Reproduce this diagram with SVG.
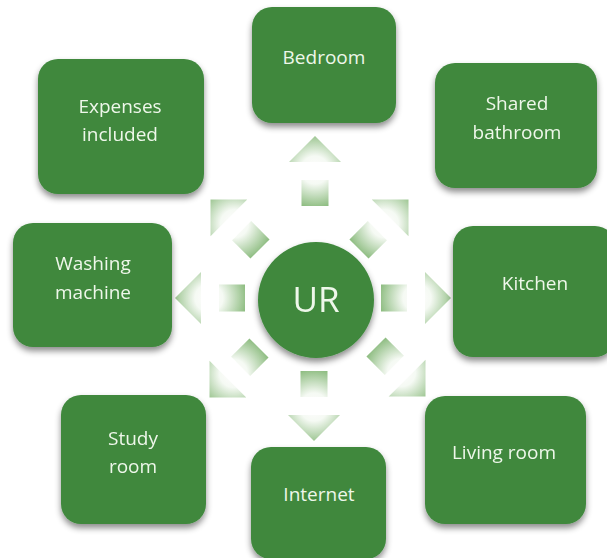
<svg xmlns="http://www.w3.org/2000/svg" width="607" height="558" viewBox="0 0 607 558">
  <defs>
    <filter id="shadow" x="-20%" y="-20%" width="140%" height="150%">
      <feDropShadow dx="0" dy="4" stdDeviation="3" flood-color="#000" flood-opacity="0.45"/>
    </filter>
    <radialGradient id="arrowGrad" gradientUnits="userSpaceOnUse" cx="0" cy="-36" r="40">
      <stop offset="0" stop-color="#ffffff"/>
      <stop offset="0.35" stop-color="#f4f9f2"/>
      <stop offset="1" stop-color="#6fab5f"/>
    </radialGradient>
    <g id="arrow">
      <rect x="-13.5" y="-26" width="27" height="26" fill="url(#arrowGrad)"/>
      <polygon points="0,-70 26,-44 -26,-44" fill="url(#arrowGrad)"/>
    </g>
  </defs>
  <style>
    .box { fill: #3f883d; filter: url(#shadow); }
    .lbl { font-family: "Open Sans", "Liberation Sans", sans-serif; font-size: 19px; fill: #eef7ea; text-anchor: middle; }
    .hub { font-family: "Open Sans", "Liberation Sans", sans-serif; font-size: 35px; fill: #eef7ea; text-anchor: middle; }
  </style>
  <rect width="607" height="558" fill="#ffffff"/>

  <g id="connectors" opacity="0.85">
    <use href="#arrow" transform="translate(315,206)"/>
    <use href="#arrow" transform="translate(359,249) rotate(45)"/>
    <use href="#arrow" transform="translate(381,298) rotate(90)"/>
    <use href="#arrow" transform="translate(376,347) rotate(135)"/>
    <use href="#arrow" transform="translate(314,371) rotate(180)"/>
    <use href="#arrow" transform="translate(259,348) rotate(-135)"/>
    <use href="#arrow" transform="translate(245,298) rotate(-90)"/>
    <use href="#arrow" transform="translate(260,249) rotate(-45)"/>
  </g>

  <g id="node-ur">
    <circle cx="316" cy="300" r="58" class="box"/>
    <text x="316" y="312" class="hub">UR</text>
  </g>
  <g id="node-bedroom">
    <rect x="252" y="7" width="144" height="116" rx="20" class="box"/>
    <text x="324" y="64" class="lbl">Bedroom</text>
  </g>
  <g id="node-shared-bathroom">
    <rect x="435" y="63" width="162" height="125" rx="20" class="box"/>
    <text x="517" y="110" class="lbl">Shared</text>
    <text x="517" y="139" class="lbl">bathroom</text>
  </g>
  <g id="node-kitchen">
    <rect x="453" y="226" width="162" height="131" rx="20" class="box"/>
    <text x="535" y="290" class="lbl">Kitchen</text>
  </g>
  <g id="node-living-room">
    <rect x="425" y="396" width="161" height="128" rx="20" class="box"/>
    <text x="504" y="459" class="lbl">Living room</text>
  </g>
  <g id="node-internet">
    <rect x="251" y="447" width="135" height="112" rx="20" class="box"/>
    <text x="319" y="501" class="lbl">Internet</text>
  </g>
  <g id="node-study-room">
    <rect x="61" y="395" width="145" height="129" rx="20" class="box"/>
    <text x="133" y="445" class="lbl">Study</text>
    <text x="133" y="473" class="lbl">room</text>
  </g>
  <g id="node-washing-machine">
    <rect x="13" y="223" width="159" height="124" rx="20" class="box"/>
    <text x="93" y="270" class="lbl">Washing</text>
    <text x="93" y="299" class="lbl">machine</text>
  </g>
  <g id="node-expenses-included">
    <rect x="38" y="59" width="166" height="135" rx="20" class="box"/>
    <text x="120" y="113" class="lbl">Expenses</text>
    <text x="120" y="141" class="lbl">included</text>
  </g>
</svg>
